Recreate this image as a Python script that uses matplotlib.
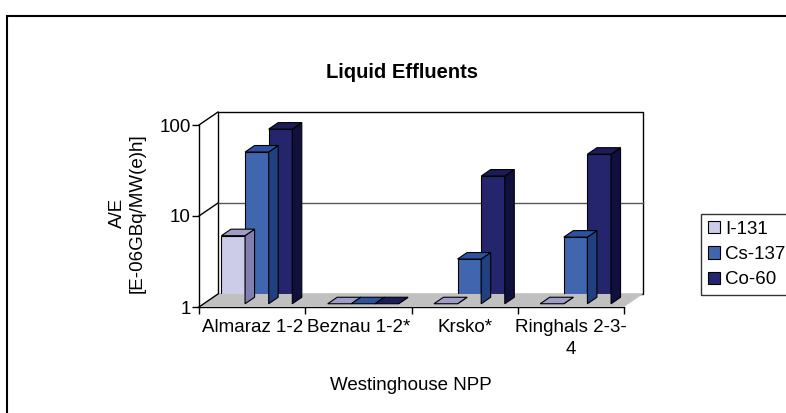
import numpy as np
import matplotlib
matplotlib.use('Agg')
from matplotlib import pyplot as plt
from matplotlib.patches import Rectangle, Polygon, Patch
from matplotlib.lines import Line2D
from matplotlib.transforms import ScaledTranslation, IdentityTransform

plt.rcParams['font.family'] = ['Liberation Sans', 'DejaVu Sans']

plants = ['Almaraz 1-2', 'Beznau 1-2*', 'Krsko*', 'Ringhals 2-3-\n4']
series = ['I-131', 'Cs-137', 'Co-60']
i131 = [5.6, 0, 0, 0]
cs137 = [46.5, 0, 3.1, 5.4]
co60 = [83, 0, 25.3, 44]
values = [i131, cs137, co60]

front_cols = ['#CCCCE8', '#4166B0', '#25256E']
top_cols = ['#9D9DC8', '#2D52A0', '#1C1C58']
side_cols = ['#8080B0', '#20407F', '#10103F']

fig = plt.figure(figsize=(7.86, 4.13), dpi=100)
ax = fig.add_axes([199 / 786, (413 - 307) / 413, 425 / 786, 182 / 413])
ax.set_yscale('log')
ax.set_ylim(1, 100)
ax.set_xlim(0, 4)

# depth of the fake 3d box, in pixels
DX, DY = 19, 13


def shifted(frac):
    return ax.transData + ScaledTranslation(frac * DX / 100, frac * DY / 100, fig.dpi_scale_trans)


def disp(x, y, frac=0.0):
    p = ax.transData.transform((x, y))
    return (p[0] + frac * DX, p[1] + frac * DY)


# floor
floor = Polygon([disp(0, 1), disp(4, 1), disp(4, 1, 1), disp(0, 1, 1)],
                closed=True, fc='#C0C0C0', ec='none', transform=IdentityTransform(), zorder=0.3)
fig.add_artist(floor)

# back wall
wall = Rectangle((0, 1), 4, 99, transform=shifted(1), fc='white', ec='black', lw=1.0,
                 zorder=0.5, clip_on=False)
ax.add_patch(wall)
ax.plot([0, 4], [10, 10], transform=shifted(1), color='0.35', lw=1.0, zorder=0.6, clip_on=False)

# side wall edges
for v in [1, 10, 100]:
    a = disp(0, v)
    b = disp(0, v, 1)
    fig.add_artist(Line2D([a[0], b[0]], [a[1], b[1]], color='black', lw=1.0,
                          transform=IdentityTransform(), zorder=0.7))

# bars (front face at 1/4 depth, back at 3/4)
w = 1 / 4.5
z = 2.0
hd = 0.5
for i in range(len(plants)):
    for j in range(len(series)):
        v = max(values[j][i], 1)
        x0 = i + 0.75 * w + j * w
        tf = shifted(0.25)
        fl = np.array(tf.transform((x0, 1)))
        fr = np.array(tf.transform((x0 + w, 1)))
        tl = np.array(tf.transform((x0, v)))
        tr = np.array(tf.transform((x0 + w, v)))
        d = np.array([hd * DX, hd * DY])
        side = Polygon([fr, tr, tr + d, fr + d], closed=True, fc=side_cols[j], ec='black',
                       lw=0.8, transform=IdentityTransform(), zorder=z)
        top = Polygon([tl, tr, tr + d, tl + d], closed=True, fc=top_cols[j], ec='black',
                      lw=0.8, transform=IdentityTransform(), zorder=z + 0.001)
        fig.add_artist(side)
        fig.add_artist(top)
        if v > 1:
            ax.bar(x0, v - 1, bottom=1, width=w, align='edge', color=front_cols[j],
                   edgecolor='black', lw=0.8, transform=tf, zorder=z + 0.002, clip_on=False)
        z += 0.01

# axes
for s in ['top', 'right']:
    ax.spines[s].set_visible(False)
ax.spines['left'].set_linewidth(1.0)
ax.spines['bottom'].set_linewidth(1.0)
ax.spines['left'].set_zorder(1)
ax.spines['bottom'].set_zorder(1)
ax.set_yticks([1, 10, 100], ['1', '10', '100'])
ax.yaxis.set_minor_locator(matplotlib.ticker.NullLocator())
ax.tick_params(axis='y', which='major', length=5, width=1, labelsize=13.5, pad=1)
ax.set_xticks([0, 1, 2, 3, 4], [''] * 5)
ax.set_xticks([0.5, 1.5, 2.5, 3.5], plants, minor=True)
ax.tick_params(axis='x', which='major', length=5, width=1)
ax.tick_params(axis='x', which='minor', length=0, labelsize=13.5, pad=9)
for t in ax.get_xticklabels(minor=True):
    t.set_linespacing(1.35)
ax.patch.set_visible(False)

fig.text(402 / 786, 1 - 72 / 413, 'Liquid Effluents', ha='center', va='center',
         fontsize=14.5, fontweight='bold')
fig.text(127 / 786, 1 - 213 / 413, 'A/E\n[E-06GBq/MW(e)h]', rotation=90, ha='center',
         va='center', fontsize=13.5, multialignment='center')
fig.text(411 / 786, 1 - 385 / 413, 'Westinghouse NPP', ha='center', va='center', fontsize=13.5)

handles = [Patch(fc=c, ec='black', lw=0.8) for c in front_cols]
leg = fig.legend(handles, series, loc='upper left', bbox_to_anchor=(701 / 786, 1 - 214 / 413),
                 fontsize=13.5, frameon=True, fancybox=False, edgecolor='black',
                 borderaxespad=0, borderpad=0.35, handlelength=0.65, handleheight=0.65,
                 handletextpad=0.3, labelspacing=0.45)
leg.get_frame().set_linewidth(1.0)

# chart border
fig.add_artist(Rectangle((7 / 786, -0.2), 1.2, 1.2 - 16 / 413, transform=fig.transFigure,
                         fill=False, ec='black', lw=1.5))

fig.savefig('out.png', dpi=100)
